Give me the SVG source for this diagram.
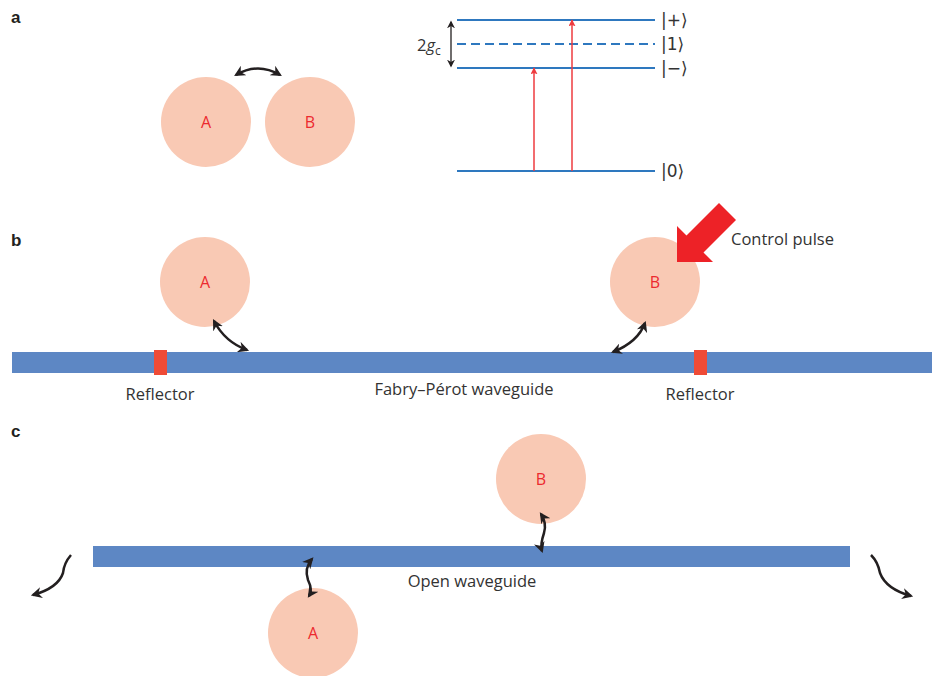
<svg xmlns="http://www.w3.org/2000/svg" width="936" height="676" viewBox="0 0 936 676">
<defs>
<marker id="ah" viewBox="0 0 10 10" refX="8" refY="5" markerWidth="11" markerHeight="11" orient="auto-start-reverse" markerUnits="userSpaceOnUse">
<path d="M0,0 L10,5 L0,10 L3,5 Z" fill="#231f20"/>
</marker>
<marker id="ahk" viewBox="0 0 10 10" refX="8" refY="5" markerWidth="8" markerHeight="8" orient="auto-start-reverse" markerUnits="userSpaceOnUse">
<path d="M0,0 L10,5 L0,10 L3,5 Z" fill="#231f20"/>
</marker>
<marker id="ahr" viewBox="0 0 10 10" refX="9" refY="5" markerWidth="7" markerHeight="7" orient="auto" markerUnits="userSpaceOnUse">
<path d="M0,0 L10,5 L0,10 L2,5 Z" fill="#ee3b3f"/>
</marker>
</defs>
<style>
.qd{fill:#f9c9b4}
.ql{font-family:"Open Sans","Liberation Sans",sans-serif;font-size:16px;fill:#ec2a2f;text-anchor:middle}
.tx{font-family:"Open Sans","Liberation Sans",sans-serif;font-size:16.5px;fill:#333}
.kt{font-family:"DejaVu Sans","Open Sans",sans-serif;font-size:17px;fill:#333}
.pl{font-family:"Liberation Sans",Arial,sans-serif;font-size:17px;font-weight:bold;fill:#231f20}
.lv{stroke:#2e78bf;stroke-width:2;fill:none}
.wg{fill:#5d87c4}
.rf{fill:#ef4b36}
.cn{stroke:#231f20;stroke-width:2.5;fill:none}
.rd{stroke:#ee3b3f;stroke-width:1.5;fill:none}
</style>

<text class="pl" x="11" y="23">a</text>
<text class="pl" x="11" y="246">b</text>
<text class="pl" x="11" y="437">c</text>

<g id="a-A"><circle class="qd" cx="206" cy="122" r="45"/><text class="ql" x="206" y="128">A</text></g>
<g id="a-B"><circle class="qd" cx="310" cy="122" r="45"/><text class="ql" x="310" y="128">B</text></g>

<g id="levels">
<line class="lv" x1="457" y1="20" x2="655" y2="20"/>
<line class="lv" x1="457" y1="44" x2="655" y2="44" stroke-dasharray="9,5"/>
<line class="lv" x1="457" y1="68" x2="655" y2="68"/>
<line class="lv" x1="457" y1="171" x2="655" y2="171"/>
<text class="kt" x="661" y="26">|+⟩</text>
<text class="kt" x="661" y="50">|1⟩</text>
<text class="kt" x="661" y="74">|−⟩</text>
<text class="kt" x="661" y="177">|0⟩</text>
<text class="tx" x="417" y="51" font-size="18">2<tspan font-style="italic">g</tspan><tspan font-size="12" dy="4">c</tspan></text>
</g>

<g id="b-wg"><rect class="wg" x="12" y="352" width="920" height="21"/></g>
<g id="b-ref1"><rect class="rf" x="154" y="350" width="13" height="25"/><text class="tx" x="160" y="400" text-anchor="middle">Reflector</text></g>
<g id="b-ref2"><rect class="rf" x="694" y="350" width="13" height="25"/><text class="tx" x="700" y="400" text-anchor="middle">Reflector</text></g>
<text class="tx" x="464" y="395" text-anchor="middle">Fabry–Pérot waveguide</text>
<g id="b-A"><circle class="qd" cx="205" cy="282" r="45"/><text class="ql" x="205" y="288">A</text></g>
<g id="b-B"><circle class="qd" cx="655" cy="282" r="45"/><text class="ql" x="655" y="288">B</text></g>
<g id="pulse">
<polygon fill="#ed2227" points="677,262 677,226 686.5,235.5 719,203 736,220 703.5,252.5 713,262"/>
<text class="tx" x="731" y="245">Control pulse</text>
</g>

<g id="c-wg"><rect class="wg" x="93" y="546" width="757" height="21"/></g>
<text class="tx" x="472" y="587" text-anchor="middle">Open waveguide</text>
<g id="c-A"><circle class="qd" cx="313" cy="633" r="45"/><text class="ql" x="313" y="639">A</text></g>
<g id="c-B"><circle class="qd" cx="541" cy="479" r="45"/><text class="ql" x="541" y="485">B</text></g>

<g id="connectors">
<path class="cn" d="M236,75 Q258,62 280,75" marker-start="url(#ah)" marker-end="url(#ah)"/>
<line x1="451" y1="22" x2="451" y2="66" stroke="#231f20" stroke-width="1.3" marker-start="url(#ahk)" marker-end="url(#ahk)"/>
<line class="rd" x1="534" y1="171" x2="534" y2="68" marker-end="url(#ahr)"/>
<line class="rd" x1="572" y1="171" x2="572" y2="20" marker-end="url(#ahr)"/>
<path class="cn" d="M214,321 Q225,342 247,350" marker-start="url(#ah)" marker-end="url(#ah)"/>
<path class="cn" d="M645,323 Q638,342 613,352" marker-start="url(#ah)" marker-end="url(#ah)"/>
<path class="cn" d="M312,559 Q304,568 308,580 Q313,590 309,596" marker-start="url(#ah)" marker-end="url(#ah)"/>
<path class="cn" d="M541,514 Q547,523 544,533 Q540,545 542,551" marker-start="url(#ah)" marker-end="url(#ah)"/>
<path class="cn" d="M71,555 Q64,563 63,573 Q58,588 33,595" marker-end="url(#ah)"/>
<path class="cn" d="M871,555 Q878,562 880,573 Q886,589 911,596" marker-end="url(#ah)"/>
</g>
</svg>
